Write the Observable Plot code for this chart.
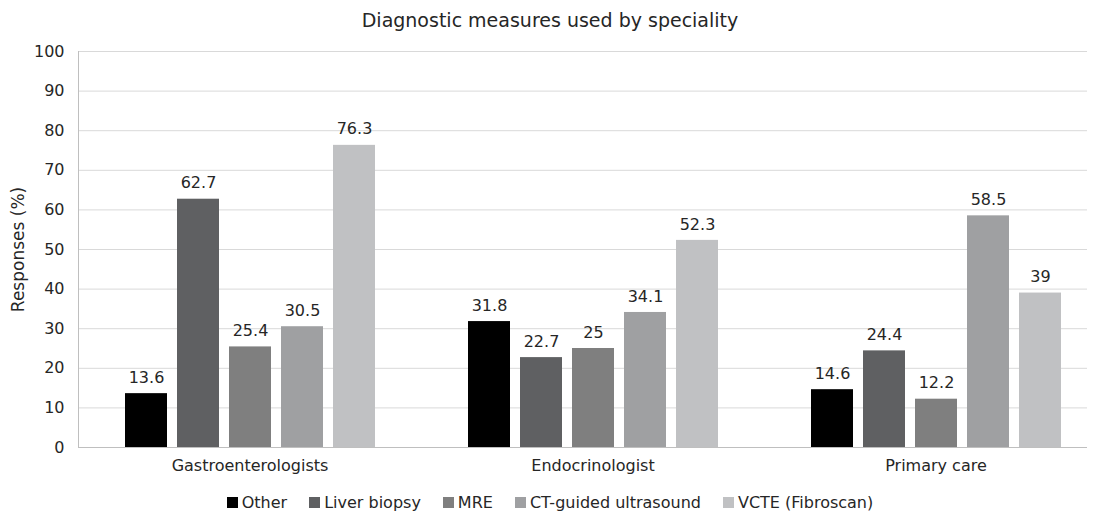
<!DOCTYPE html>
<html>
<head>
<meta charset="utf-8">
<script src="https://cdn.jsdelivr.net/npm/d3@7"></script>
<script src="https://cdn.jsdelivr.net/npm/@observablehq/plot@0.6"></script>
<style>
  body { margin: 0; background: #fff; font-family: "DejaVu Sans", sans-serif; color: #262626; }
  #title { height: 36px; line-height: 40px; text-align: center; font-size: 19px; color: #262626; }
  #legend { display: flex; justify-content: center; gap: 22px; font-size: 16px; color: #262626; margin-top: 7px; }
  #legend span.item { display: flex; align-items: center; }
  #legend span.sw { display: inline-block; width: 11px; height: 11px; margin-right: 4px; }
  g[aria-label="y-axis label"] text { font-size: 17px; }
</style>
</head>
<body>
<div id="title">Diagnostic measures used by speciality</div>
<div id="chart"></div>
<div id="legend"></div>
<script>
const specialities = ["Gastroenterologists", "Endocrinologist", "Primary care"];
const measures = ["Other", "Liver biopsy", "MRE", "CT-guided ultrasound", "VCTE (Fibroscan)"];
const colors = ["#000000", "#5f6062", "#7f7f7f", "#9fa0a2", "#c0c1c3"];
const gastro = [13.6, 62.7, 25.4, 30.5, 76.3];
const endo = [31.8, 22.7, 25, 34.1, 52.3];
const primary = [14.6, 24.4, 12.2, 58.5, 39];
const yTicks = [0, 10, 20, 30, 40, 50, 60, 70, 80, 90, 100];

const series = [gastro, endo, primary];
const data = [];
specialities.forEach((s, i) => measures.forEach((m, j) => data.push({speciality: s, measure: m, value: series[i][j]})));
const gridRows = specialities.flatMap(s => yTicks.map(t => ({speciality: s, y: t})));
const last = specialities[specialities.length - 1];

const gridStyle = (t) => ({fx: "speciality", y: "y", stroke: t === 0 ? "#bfbfbf" : "#d9d9d9", strokeWidth: 1});

const chart = Plot.plot({
  width: 1100,
  height: 450,
  marginTop: 15,
  marginBottom: 39,
  marginLeft: 78,
  marginRight: 10,
  style: {fontFamily: "DejaVu Sans, sans-serif", fontSize: "16px", color: "#262626"},
  fx: {domain: specialities, paddingInner: 0, paddingOuter: -0.029, align: 0, label: null, axis: "bottom", tickSize: 0, tickPadding: 12},
  x: {domain: measures, paddingInner: 0.2, paddingOuter: 0.86, align: 0.507, axis: null},
  y: {domain: [0, 100], ticks: yTicks, label: "Responses (%)", labelAnchor: "center", labelArrow: "none", labelOffset: 67, tickSize: 0, tickPadding: 14},
  color: {domain: measures, range: colors},
  marks: [
    Plot.ruleY(gridRows, {...gridStyle(1), filter: d => d.y > 0 && d.speciality !== last}),
    Plot.ruleY(gridRows, {...gridStyle(1), filter: d => d.y > 0 && d.speciality === last, insetRight: 20}),
    Plot.barY(data, {fx: "speciality", x: "measure", y: "value", fill: "measure"}),
    Plot.text(data, {fx: "speciality", x: "measure", y: "value", text: d => String(d.value), dy: -16, fontSize: 16, fill: "#262626"}),
    Plot.ruleY(gridRows, {...gridStyle(0), filter: d => d.y === 0 && d.speciality !== last}),
    Plot.ruleY(gridRows, {...gridStyle(0), filter: d => d.y === 0 && d.speciality === last, insetRight: 20}),
    Plot.frame({anchor: "left", stroke: "#bfbfbf", fx: () => specialities[0]})
  ]
});
document.getElementById("chart").appendChild(chart);

const legend = document.getElementById("legend");
measures.forEach((m, i) => {
  const it = document.createElement("span");
  it.className = "item";
  const sw = document.createElement("span");
  sw.className = "sw";
  sw.style.background = colors[i];
  it.appendChild(sw);
  it.appendChild(document.createTextNode(m));
  legend.appendChild(it);
});
</script>
</body>
</html>
